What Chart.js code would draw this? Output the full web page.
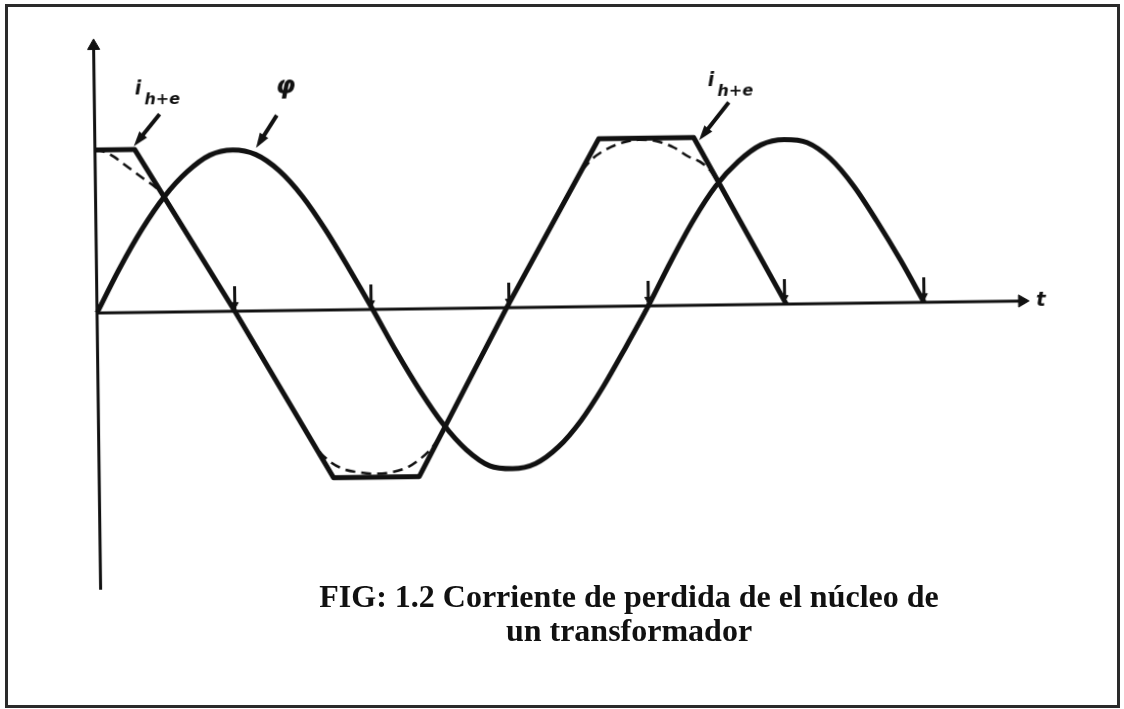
<!DOCTYPE html>
<html lang="es">

<head>
    <meta charset="UTF-8">
    <title>FIG 1.2</title>
    <script src="https://cdn.jsdelivr.net/npm/chart.js@4.4.1/dist/chart.umd.min.js"></script>
    <style>
        body { margin: 0; background: #fff; }
        /* frame of the page, not tilted */
        #frame { position: absolute; left: 5px; top: 4px; width: 1115px; height: 704px;
                 box-sizing: border-box; border: 3px solid #2a2a2a; }
        /* the scanned drawing is a bit tilted */
        #wrap { position: absolute; left: 0; top: 0; width: 1124px; height: 709px;
                transform: rotate(-0.74deg); }
        #caption { position: absolute; left: 229px; top: 579px; width: 800px; text-align: center;
                   white-space: nowrap;
                   font: bold 32px/34px "Liberation Serif", "Times New Roman", serif; color: #111; }
    </style>
</head>

<body>
    <div id="frame"></div>
    <div id="wrap"><canvas id="chart"></canvas></div>
    <div id="caption">FIG: 1.2 Corriente de perdida de el núcleo de<br>un transformador</div>

    <script>
        // x in electrical degrees (wt), y relative to the flux peak
        const phiDeg = [0, 15, 30, 45, 60, 75, 90, 105, 120, 135, 150, 165, 180, 195, 210, 225, 240, 255, 270,
            285, 300, 315, 330, 345, 360, 375, 390, 405, 420, 435, 450, 465, 480, 495, 510, 525, 540];
        const phiVal = [0, 0.27, 0.51, 0.71, 0.86, 0.96, 0.99, 0.96, 0.86, 0.70, 0.49, 0.25, 0, -0.26, -0.50, -0.71, -0.87, -0.97, -0.99,
            -0.96, -0.86, -0.70, -0.49, -0.25, 0, 0.27, 0.52, 0.73, 0.88, 0.98, 1.01, 0.99, 0.89, 0.72, 0.50, 0.26, 0];

        // i h+e : flat topped current
        const iDeg = [0, 26, 90, 153, 209, 267.5, 329, 391, 450];
        const iVal = [1.0, 1.0, 0, -1.03, -1.03, 0, 1.03, 1.03, 0];

        // dashed rounded current near the flat parts (null = gap)
        const dashDeg = [0, 6, 12, 19, 26, 33, 40, 46, 47,
            138, 145, 152, 160, 170, 181, 192, 202, 210, 217, 224, 225,
            318, 325, 333, 343, 355, 367, 378, 388, 395, 402, 408];
        const dashVal = [1.0, 0.99, 0.96, 0.91, 0.86, 0.81, 0.76, 0.69, null,
            -0.79, -0.88, -0.94, -0.98, -1.0, -1.01, -1.0, -0.97, -0.92, -0.86, -0.77, null,
            0.84, 0.91, 0.96, 1.0, 1.02, 1.01, 0.97, 0.91, 0.88, 0.82, 0.73];

        // little direction arrows where the curves meet the t axis
        const tickDeg = [90, 179, 269, 360, 449, 540];

        // axes ends
        const tAxisEnd = 604;
        const yAxisTop = 1.64;
        const yAxisBottom = -1.70;

        // curve labels with their pointer arrows
        const noteText = ['i', 'φ', 'i'];
        const noteSub = ['h+e', '', 'h+e'];
        const noteAt = [[26.5, 1.371], [118.6, 1.371], [400.7, 1.374]];
        const noteFrom = [[42.5, 1.216], [119, 1.2], [414.2, 1.244]];
        const noteTo = [[25.4, 1.021], [105.2, 1.0], [394.5, 1.013]];

        const ink = '#111';
        const pts = (xs, ys) => xs.map((v, k) => ({ x: v, y: ys[k] }));

        // draws labels and pointer arrows using the chart scales
        const notes = {
            id: 'notes',
            afterDatasetsDraw(chart) {
                const { ctx, scales: { x, y } } = chart;
                ctx.save();
                ctx.fillStyle = ink;
                ctx.strokeStyle = ink;
                ctx.textBaseline = 'middle';
                ctx.textAlign = 'left';
                for (let k = 0; k < noteText.length; k++) {
                    const px = x.getPixelForValue(noteAt[k][0]);
                    const py = y.getPixelForValue(noteAt[k][1]);
                    ctx.font = noteSub[k] ? 'italic bold 19px "DejaVu Sans"' : 'italic bold 25px "DejaVu Sans"';
                    ctx.fillText(noteText[k], px, py);
                    if (noteSub[k]) {
                        const w = ctx.measureText(noteText[k]).width;
                        ctx.font = 'italic bold 16px "DejaVu Sans"';
                        ctx.fillText(noteSub[k], px + w + 3, py + 11);
                    }
                    // pointer
                    const x1 = x.getPixelForValue(noteFrom[k][0]), y1 = y.getPixelForValue(noteFrom[k][1]);
                    const x2 = x.getPixelForValue(noteTo[k][0]), y2 = y.getPixelForValue(noteTo[k][1]);
                    const a = Math.atan2(y2 - y1, x2 - x1);
                    ctx.lineWidth = 4;
                    ctx.beginPath();
                    ctx.moveTo(x1, y1);
                    ctx.lineTo(x2 - 8 * Math.cos(a), y2 - 8 * Math.sin(a));
                    ctx.stroke();
                    ctx.beginPath();
                    ctx.moveTo(x2, y2);
                    ctx.lineTo(x2 - 15 * Math.cos(a) + 5 * Math.sin(a), y2 - 15 * Math.sin(a) - 5 * Math.cos(a));
                    ctx.lineTo(x2 - 15 * Math.cos(a) - 5 * Math.sin(a), y2 - 15 * Math.sin(a) + 5 * Math.cos(a));
                    ctx.closePath();
                    ctx.fill();
                }
                // t label at the end of the axis
                ctx.font = 'italic bold 20px "DejaVu Sans"';
                ctx.fillText('t', x.getPixelForValue(tAxisEnd) + 14, y.getPixelForValue(0));
                ctx.restore();
            }
        };

        const ctx = document.getElementById('chart').getContext('2d');
        new Chart(ctx, {
            type: 'line',
            data: {
                datasets: [
                    {   // t axis
                        data: pts([0, tAxisEnd], [0, 0]),
                        borderColor: ink, borderWidth: 3,
                        pointStyle: 'triangle', pointRadius: [0, 7], pointRotation: 90,
                        pointBackgroundColor: ink, pointBorderColor: ink, pointBorderWidth: 1
                    },
                    {   // vertical axis
                        data: pts([0, 0], [yAxisBottom, yAxisTop]),
                        borderColor: ink, borderWidth: 3,
                        pointStyle: 'triangle', pointRadius: [0, 7],
                        pointBackgroundColor: ink, pointBorderColor: ink, pointBorderWidth: 1
                    },
                    {   // flux
                        data: pts(phiDeg, phiVal),
                        borderColor: ink, borderWidth: 5,
                        cubicInterpolationMode: 'monotone', pointRadius: 0
                    },
                    {   // i h+e
                        data: pts(iDeg, iVal),
                        borderColor: ink, borderWidth: 5, tension: 0,
                        borderJoinStyle: 'round', pointRadius: 0
                    },
                    {   // dashed current
                        data: pts(dashDeg, dashVal),
                        borderColor: ink, borderWidth: 2.5, borderDash: [10, 6],
                        cubicInterpolationMode: 'monotone', spanGaps: false, pointRadius: 0
                    },
                    {   // arrow strokes on the axis
                        data: pts(tickDeg, tickDeg.map(() => 0.077)),
                        showLine: false,
                        pointStyle: 'line', pointRotation: 90, pointRadius: 12.5,
                        pointBorderColor: ink, pointBorderWidth: 3
                    },
                    {   // arrow heads
                        data: pts(tickDeg, tickDeg.map(() => 0.04)),
                        showLine: false,
                        pointStyle: 'triangle', pointRotation: 180, pointRadius: 4,
                        pointBackgroundColor: ink, pointBorderColor: ink, pointBorderWidth: 1
                    }
                ]
            },
            options: {
                responsive: true,
                maintainAspectRatio: false,
                animation: false,
                events: [],
                layout: { padding: { left: 67, right: 9, top: 22, bottom: 109 } },
                scales: {
                    x: { type: 'linear', min: -20, max: 660, display: false },
                    y: { type: 'linear', min: -1.8, max: 1.75, display: false }
                },
                plugins: {
                    legend: { display: false },
                    tooltip: { enabled: false }
                }
            },
            plugins: [notes]
        });
    </script>
</body>

</html>
